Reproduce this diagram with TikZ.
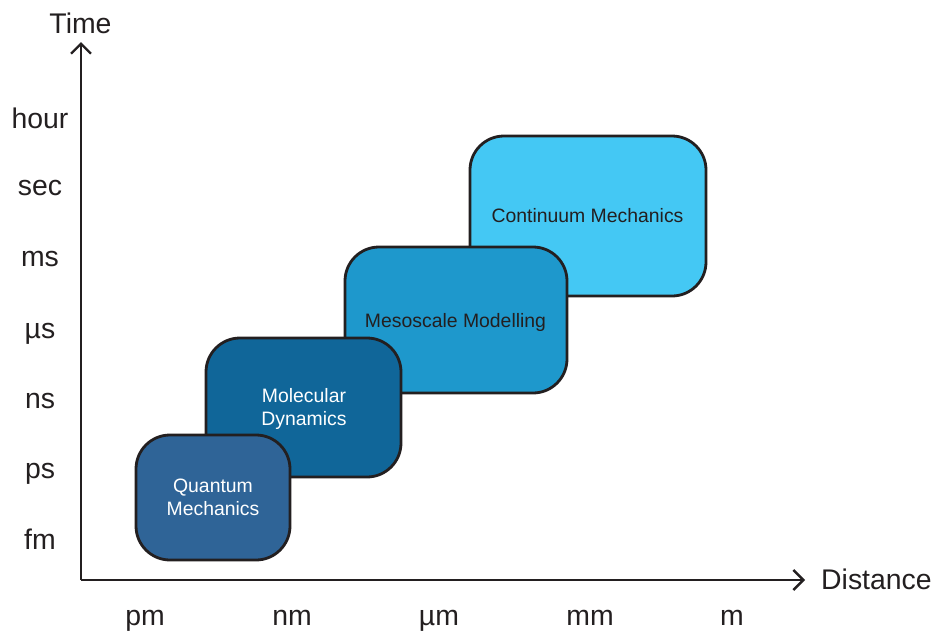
\documentclass[tikz,border=0pt]{standalone}
\usepackage{fontspec}
\setmainfont{Liberation Sans}
\usetikzlibrary{arrows.meta}
\definecolor{inkdark}{HTML}{231F20}
\definecolor{qmblue}{HTML}{2F6497}
\definecolor{mdblue}{HTML}{106699}
\definecolor{msblue}{HTML}{1E98CC}
\definecolor{cmblue}{HTML}{44C8F4}
\tikzset{
  x=1pt, y=-1pt,
  axis/.style={draw=inkdark, line width=2.4pt,
    -{Straight Barb[length=10pt,width=20pt,line width=2.4pt]}},
  scalebox/.style={draw=inkdark, line width=2.8pt, rounded corners=34pt},
  boxtext/.style={font=\fontsize{19.4}{23}\selectfont, align=center,
    inner sep=0pt, anchor=base},
  ticklabel/.style={font=\fontsize{28.4}{30}\selectfont, text=inkdark,
    inner sep=0pt, anchor=base},
  axislabel/.style={font=\fontsize{28.4}{30}\selectfont, text=inkdark,
    inner sep=0pt, anchor=base}
}
\begin{document}
\begin{tikzpicture}
\useasboundingbox (0,0) rectangle (934,632);

% modelling scales, widest first so the finer ones sit on top
% (two-line labels are placed by the baseline of their last line)
\draw[scalebox, fill=cmblue] (470,136) rectangle (706,296);
\node[boxtext, text=inkdark] (cm) at (587.5,222) {Continuum Mechanics};
\draw[scalebox, fill=msblue] (345,247) rectangle (567,393);
\node[boxtext, text=inkdark] (ms) at (455.5,327) {Mesoscale Modelling};
\draw[scalebox, fill=mdblue] (206,338) rectangle (401,477);
\node[boxtext, text=white] (md) at (304,425) {Molecular\\Dynamics};
\draw[scalebox, fill=qmblue] (136,435) rectangle (290,560);
\node[boxtext, text=white] (qm) at (213,515) {Quantum\\Mechanics};

% axes
\coordinate (origin) at (81,580);
\coordinate (ytip) at (81,42);
\coordinate (xtip) at (805,580);
\draw[axis] (origin) -- (ytip);
\draw[axis] (origin) -- (xtip);
\node[axislabel] (tlabel) at (80.5,33) {Time};
\node[axislabel, anchor=base west] (dlabel) at (821,589) {Distance};

% time scale
\node[ticklabel] (thour) at (40,128) {hour};
\node[ticklabel] (tsec) at (40,195) {sec};
\node[ticklabel] (tms) at (40,266) {ms};
\node[ticklabel] (tus) at (40,338) {µs};
\node[ticklabel] (tns) at (40,408) {ns};
\node[ticklabel] (tps) at (40,478) {ps};
\node[ticklabel] (tfm) at (40,549) {fm};

% length scale
\node[ticklabel] (dpm) at (145,625) {pm};
\node[ticklabel] (dnm) at (292,625) {nm};
\node[ticklabel] (dum) at (439,625) {µm};
\node[ticklabel] (dmm) at (590,625) {mm};
\node[ticklabel] (dm) at (732,625) {m};
\end{tikzpicture}
\end{document}
